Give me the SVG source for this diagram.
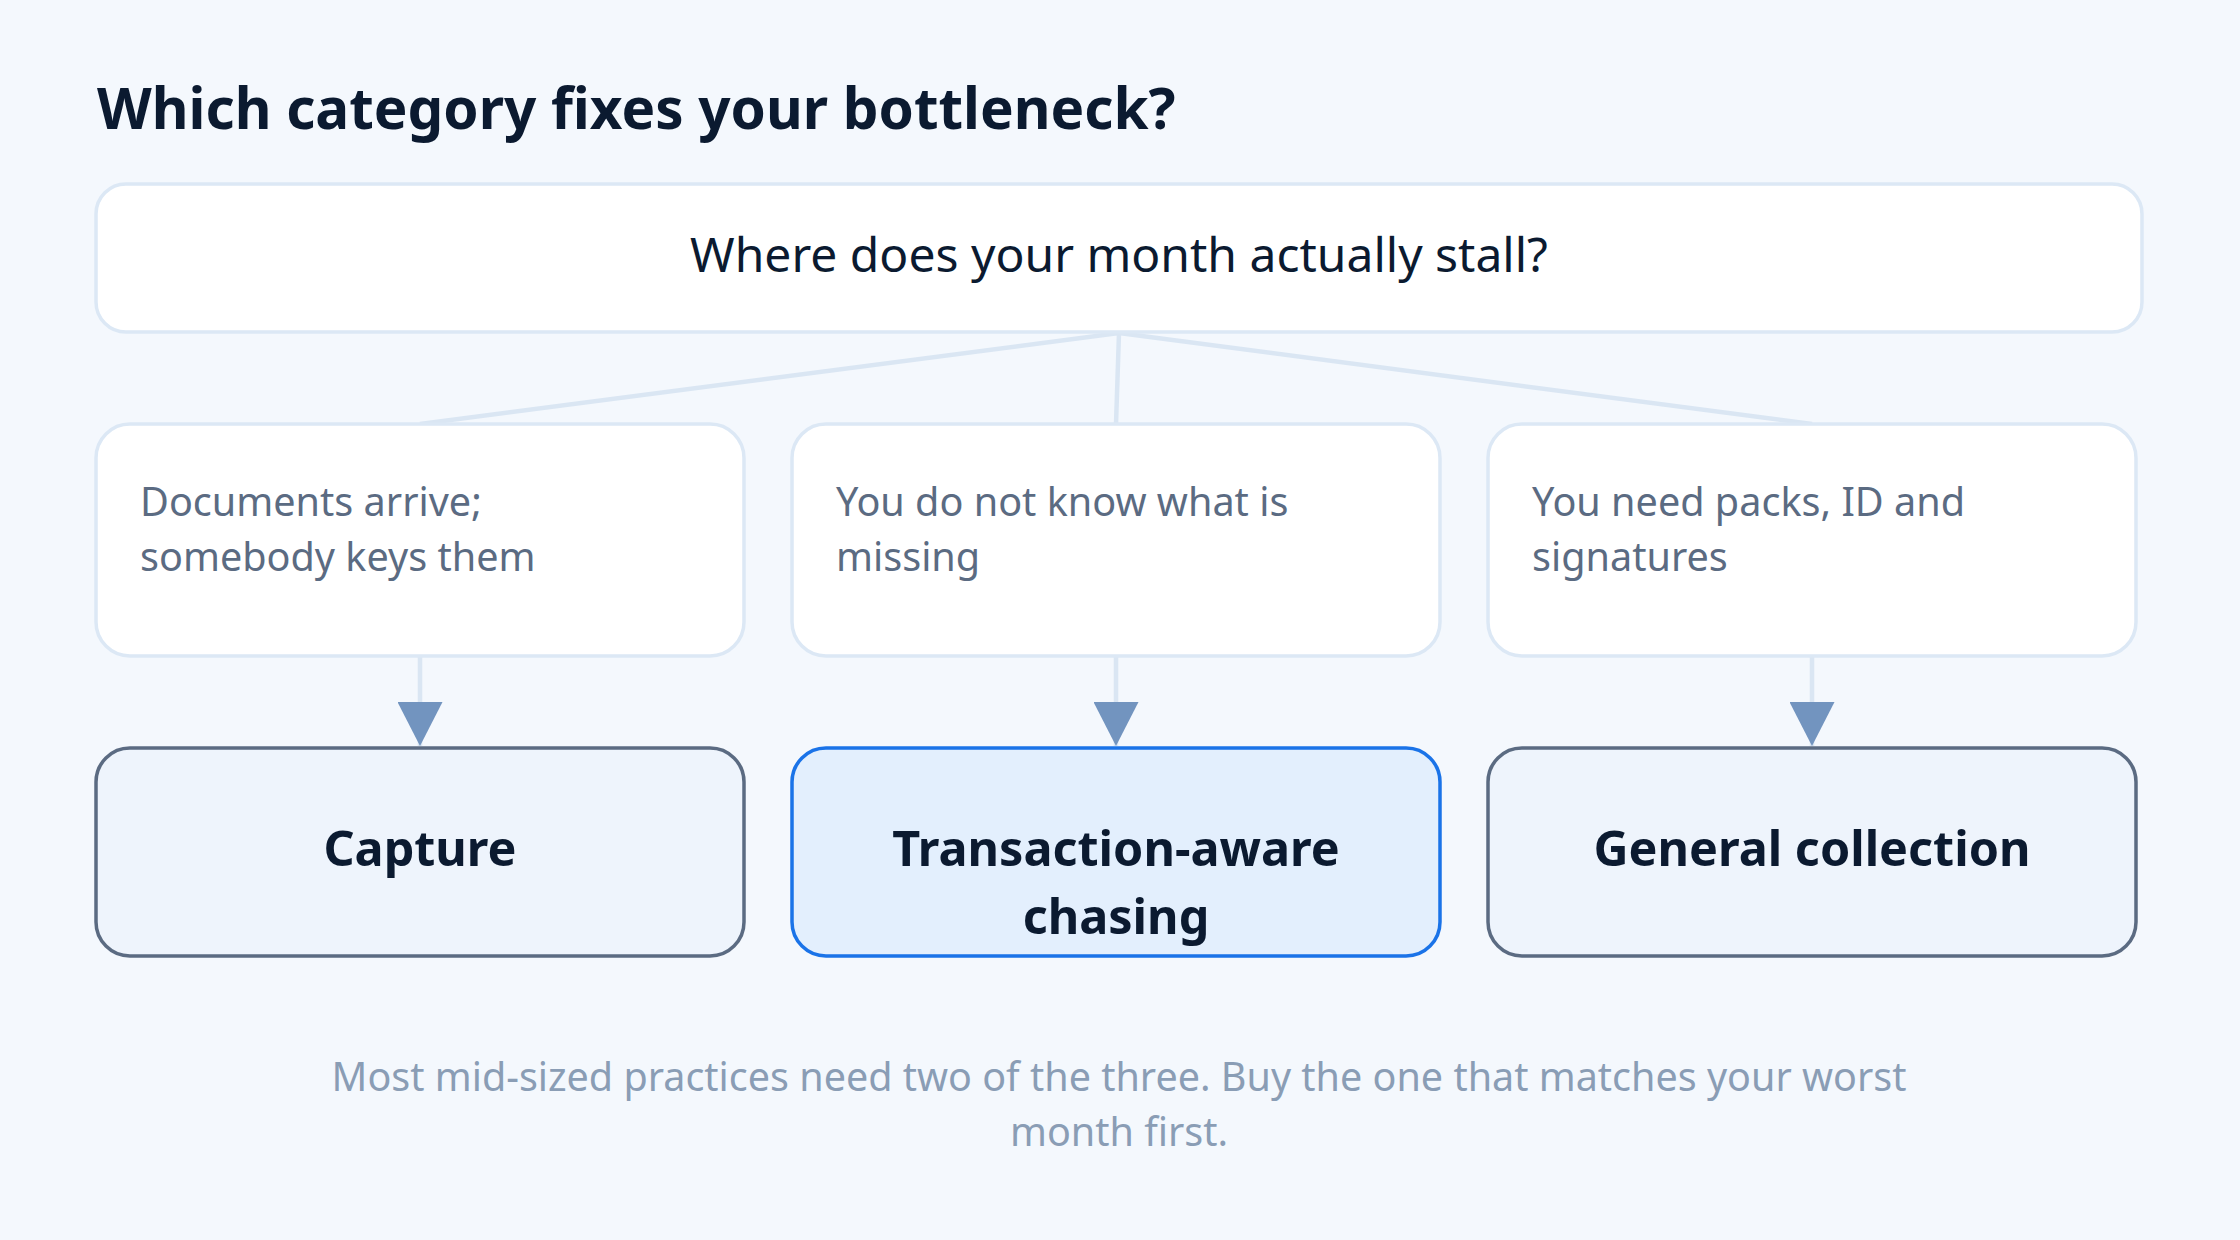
<svg xmlns="http://www.w3.org/2000/svg" width="2240" height="1240" viewBox="0 0 2240 1240">
<defs>
<marker id="arr" viewBox="0 0 44 45" refX="44" refY="22.5" markerWidth="44" markerHeight="45" markerUnits="userSpaceOnUse" orient="auto">
<path d="M0,0 L44,22.5 L0,45 Z" fill="#7294bf"/>
</marker>
<style>
text{font-family:"Noto Sans","Open Sans","Liberation Sans",sans-serif}
.title{font-size:56.6px;font-weight:700;fill:#0b1a30}
.q{font-size:48px;fill:#0b1a30;text-anchor:middle}
.cond{font-size:39.6px;fill:#5b6b82}
.cat{font-size:48.5px;font-weight:700;fill:#0b1a30;text-anchor:middle}
.foot{font-size:39.5px;fill:#8a9db5;text-anchor:middle}
.box{fill:#ffffff;stroke:#dce8f5;stroke-width:3.5}
.catbox{fill:#eef4fc;stroke:#5b6b82;stroke-width:3.5}
.hl{fill:#e3effd;stroke:#1a73e8;stroke-width:3.5}
.link{stroke:#dae6f3;stroke-width:4.5;fill:none}
</style>
</defs>
<rect width="2240" height="1240" fill="#f4f8fd"/>
<text class="title" x="97" y="129">Which category fixes your bottleneck?</text>
<g id="connectors">
<line class="link" x1="1119" y1="333" x2="420" y2="424"/>
<line class="link" x1="1119" y1="333" x2="1116" y2="424"/>
<line class="link" x1="1119" y1="333" x2="1812" y2="424"/>
<line class="link" x1="420" y1="657" x2="420" y2="746" marker-end="url(#arr)"/>
<line class="link" x1="1116" y1="657" x2="1116" y2="746" marker-end="url(#arr)"/>
<line class="link" x1="1812" y1="657" x2="1812" y2="746" marker-end="url(#arr)"/>
</g>
<g id="question">
<rect class="box" x="96" y="184" width="2046" height="148" rx="30"/>
<text class="q" x="1119" y="272">Where does your month actually stall?</text>
</g>
<g id="cond-capture">
<rect class="box" x="96" y="424" width="648" height="232" rx="34"/>
<text class="cond" x="140" y="516">Documents arrive;</text>
<text class="cond" x="140" y="571">somebody keys them</text>
</g>
<g id="cond-chasing">
<rect class="box" x="792" y="424" width="648" height="232" rx="34"/>
<text class="cond" x="836" y="516">You do not know what is</text>
<text class="cond" x="836" y="571">missing</text>
</g>
<g id="cond-general">
<rect class="box" x="1488" y="424" width="648" height="232" rx="34"/>
<text class="cond" x="1532" y="516">You need packs, ID and</text>
<text class="cond" x="1532" y="571">signatures</text>
</g>
<g id="cat-capture">
<rect class="catbox" x="96" y="748" width="648" height="208" rx="34"/>
<text class="cat" x="420" y="866">Capture</text>
</g>
<g id="cat-chasing">
<rect class="hl" x="792" y="748" width="648" height="208" rx="34"/>
<text class="cat" x="1116" y="866">Transaction-aware</text>
<text class="cat" x="1116" y="934">chasing</text>
</g>
<g id="cat-general">
<rect class="catbox" x="1488" y="748" width="648" height="208" rx="34"/>
<text class="cat" x="1812" y="866">General collection</text>
</g>
<g id="footer">
<text class="foot" x="1119" y="1091">Most mid-sized practices need two of the three. Buy the one that matches your worst</text>
<text class="foot" x="1119" y="1146">month first.</text>
</g>
</svg>
